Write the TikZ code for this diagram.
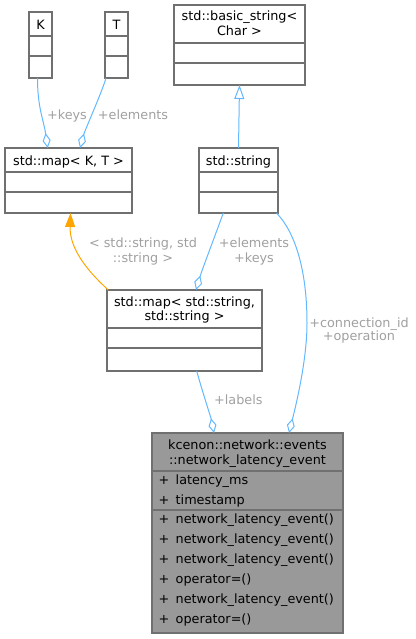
\documentclass[tikz,border=0pt]{standalone}
\usepackage{fontspec}
\setmainfont{DejaVu Sans}
\usetikzlibrary{arrows.meta,calc}
\definecolor{edgeblue}{HTML}{63B8FF}
\definecolor{inhorange}{HTML}{FFA500}
\definecolor{lblgray}{HTML}{A0A0A0}
\definecolor{boxborder}{HTML}{707070}
\definecolor{mainfill}{HTML}{999999}
\begin{document}
\begin{tikzpicture}[x=1pt,y=-1pt,
  every node/.style={font=\fontsize{12.8}{15}\selectfont, inner sep=0pt, outer sep=0pt},
  umlbox/.style={draw=boxborder, line width=1.3pt, fill=white, rectangle},
  divider/.style={draw=boxborder, line width=1.3pt},
  txt/.style={anchor=base, text=black},
  rowtxt/.style={anchor=base west, text=black},
  lbl/.style={anchor=base, text=lblgray},
  agg/.style={draw=edgeblue, line width=1pt, -{Diamond[open, length=15pt, width=8pt, line width=1pt]}},
  inh/.style={draw=edgeblue, line width=1pt, -{Triangle[open, length=14pt, width=10pt, line width=1pt, fill=white]}},
  tmpl/.style={draw=inhorange, line width=1pt, -{Triangle[length=14pt, width=10pt]}}
]
\useasboundingbox (0,0) rectangle (415,639);

% boxes
\node[umlbox, minimum width=23pt, minimum height=66pt] (K) at (40.5,45) {};
\draw[divider] ($(K.north west)+(0,24)$) -- ($(K.north east)+(0,24)$);
\draw[divider] ($(K.north west)+(0,44)$) -- ($(K.north east)+(0,44)$);
\node[txt] (Kt) at (40.5,29.3) {K};

\node[umlbox, minimum width=23pt, minimum height=66pt] (T) at (116.5,45) {};
\draw[divider] ($(T.north west)+(0,24)$) -- ($(T.north east)+(0,24)$);
\draw[divider] ($(T.north west)+(0,44)$) -- ($(T.north east)+(0,44)$);
\node[txt] (Tt) at (116.5,29.3) {T};

\node[umlbox, minimum width=127pt, minimum height=65pt] (mapKT) at (68.5,180.5) {};
\draw[divider] ($(mapKT.north west)+(0,24)$) -- ($(mapKT.north east)+(0,24)$);
\draw[divider] ($(mapKT.north west)+(0,44)$) -- ($(mapKT.north east)+(0,44)$);
\node[txt] (mapKTt) at (68.5,165.7) {std::map< K, T >};

\node[umlbox, minimum width=131pt, minimum height=80pt] (basic) at (239.5,45) {};
\draw[divider] ($(basic.north west)+(0,38)$) -- ($(basic.north east)+(0,38)$);
\draw[divider] ($(basic.north west)+(0,58)$) -- ($(basic.north east)+(0,58)$);
\node[txt] (basict1) at (239.5,20.7) {std::basic\_string<};
\node[txt] (basict2) at (239.5,35.7) {Char >};

\node[umlbox, minimum width=79pt, minimum height=65pt] (string) at (238.5,180.5) {};
\draw[divider] ($(string.north west)+(0,24)$) -- ($(string.north east)+(0,24)$);
\draw[divider] ($(string.north west)+(0,44)$) -- ($(string.north east)+(0,44)$);
\node[txt] (stringt) at (238.5,165.7) {std::string};

\node[umlbox, minimum width=155pt, minimum height=81pt] (mapSS) at (184.5,330.5) {};
\draw[divider] ($(mapSS.north west)+(0,38)$) -- ($(mapSS.north east)+(0,38)$);
\draw[divider] ($(mapSS.north west)+(0,58)$) -- ($(mapSS.north east)+(0,58)$);
\node[txt] (mapSSt1) at (184.5,306) {std::map< std::string,};
\node[txt] (mapSSt2) at (184.5,320.7) {std::string >};

\node[umlbox, fill=mainfill, minimum width=191pt, minimum height=200pt] (main) at (247.5,533) {};
\draw[divider] ($(main.north west)+(0,38)$) -- ($(main.north east)+(0,38)$);
\draw[divider] ($(main.north west)+(0,77)$) -- ($(main.north east)+(0,77)$);
\node[txt] (maint1) at (247.5,449.3) {kcenon::network::events};
\node[txt] (maint2) at (247.5,464) {::network\_latency\_event};
\foreach \yy/\tt [count=\i] in {484.3/latency\_ms, 504.3/timestamp,
    523.3/network\_latency\_event(), 543.3/network\_latency\_event(),
    563.3/network\_latency\_event(), 583.3/operator=(),
    603.3/network\_latency\_event(), 623.3/operator=()} {
  \node[rowtxt] (plus\i) at (158.5,\yy) {+};
  \node[rowtxt] (row\i) at (175.7,\yy) {\tt};
}

% connectors
\draw[agg] ([xshift=-3pt]K.south) .. controls +(0,30) and +(-4,-28) .. ([xshift=-20.8pt]mapKT.north);
\draw[agg] ([xshift=1pt]T.south west) .. controls +(-4,14) and +(5,-18) .. ([xshift=11.5pt]mapKT.north);
\node[lbl] (lkeys) at (67,119.3) {+keys};
\node[lbl] (lelem) at (133,119.3) {+elements};

\draw[inh] (string.north) -- (basic.south);

\draw[tmpl] ([xshift=1.3pt]mapSS.north west) .. controls +(-22,-20) and +(-1,35) .. ([xshift=2pt]mapKT.south);
\node[lbl] (ltmpl1) at (143,247.7) {< std::string, std};
\node[lbl] (ltmpl2) at (143,262.3) {::string >};

\draw[agg] ([xshift=-15.2pt]string.south) .. controls +(-8,22) and +(6,-20) .. ([xshift=11.5pt]mapSS.north);
\node[lbl] (lek1) at (254,247.7) {+elements};
\node[lbl] (lek2) at (254,262.3) {+keys};

\draw[agg] ([xshift=-1.5pt]string.south east) .. controls +(18.5,19) and +(0,-53) .. (307,323)
   .. controls +(0,37) and +(7,-28) .. ([xshift=41.5pt]main.north);
\node[lbl] (lconn1) at (359,327) {+connection\_id};
\node[lbl] (lconn2) at (359,340.7) {+operation};

\draw[agg] ([xshift=12.2pt]mapSS.south) .. controls +(4,15) and +(-3,-15) .. ([xshift=-33.5pt]main.north);
\node[lbl] (llabels) at (238.3,404) {+labels};
\end{tikzpicture}
\end{document}
